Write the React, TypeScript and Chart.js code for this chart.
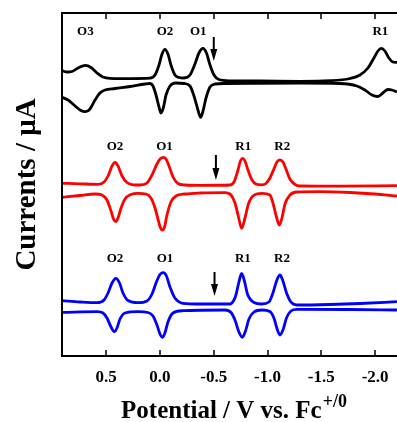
import { useEffect, useRef } from "react";
import { Chart, registerables } from "chart.js";

Chart.register(...registerables);

const FONT = "'Liberation Serif', 'Times New Roman', serif";

// Axis settings (potential in V vs Fc+/0, reversed axis)
const xTicks = [0.5, 0.0, -0.5, -1.0, -1.5, -2.0];
const xMin = -2.2035;
const xMax = 0.911;
const yMin = 0;
const yMax = 34.3;

// Traces: [potential (V), current (a.u., stacked offsets)]
const blackForward: [number, number][] = [
  [0.911, 28.53], [0.864, 28.4], [0.818, 28.45], [0.762, 28.8], [0.692, 29.07], [0.641, 28.85],
  [0.585, 28.3], [0.53, 27.9], [0.465, 27.77], [0.279, 27.74], [0.093, 27.78], [0.046, 28.1],
  [0.009, 29.1], [-0.019, 30.2], [-0.046, 30.67], [-0.074, 30.2], [-0.102, 29.1], [-0.139, 28.1],
  [-0.177, 27.85], [-0.223, 27.8], [-0.279, 28.1], [-0.325, 29.2], [-0.362, 30.3], [-0.4, 30.77],
  [-0.432, 30.3], [-0.465, 29.1], [-0.502, 28.1], [-0.548, 27.65], [-0.651, 27.52], [-0.929, 27.5],
  [-1.301, 27.47], [-1.58, 27.53], [-1.766, 27.75], [-1.859, 28.1], [-1.933, 28.8], [-1.989, 29.8],
  [-2.026, 30.5], [-2.059, 30.77], [-2.091, 30.5], [-2.128, 29.8], [-2.165, 29.4], [-2.203, 29.35],
];
const blackReverse: [number, number][] = [
  [0.911, 25.87], [0.855, 25.6], [0.799, 25.1], [0.743, 24.6], [0.691, 24.43], [0.651, 24.7],
  [0.604, 25.6], [0.558, 26.3], [0.511, 26.6], [0.418, 26.75], [0.279, 26.95], [0.139, 27.2],
  [0.093, 27.25], [0.065, 27.0], [0.037, 26.1], [0.009, 24.9], [-0.009, 24.3], [-0.033, 24.9],
  [-0.056, 26.1], [-0.093, 27.0], [-0.149, 27.3], [-0.223, 27.25], [-0.279, 27.0], [-0.316, 26.0],
  [-0.353, 24.6], [-0.378, 23.87], [-0.4, 24.5], [-0.428, 25.8], [-0.465, 26.9], [-0.511, 27.2],
  [-0.604, 27.25], [-0.929, 27.27], [-1.301, 27.28], [-1.673, 27.25], [-1.831, 27.0], [-1.905, 26.6],
  [-1.97, 26.1], [-2.026, 25.95], [-2.072, 26.3], [-2.119, 26.65], [-2.156, 26.6], [-2.203, 26.4],
];
const redForward: [number, number][] = [
  [0.911, 17.27], [0.743, 17.22], [0.576, 17.17], [0.52, 17.4], [0.483, 18.0], [0.446, 19.0],
  [0.418, 19.37], [0.39, 19.0], [0.353, 18.0], [0.307, 17.35], [0.251, 17.12], [0.186, 17.1],
  [0.121, 17.3], [0.074, 18.1], [0.028, 19.2], [-0.005, 19.75], [-0.031, 19.87], [-0.056, 19.7],
  [-0.084, 19.0], [-0.121, 17.9], [-0.167, 17.25], [-0.232, 17.1], [-0.372, 17.07], [-0.651, 17.1],
  [-0.688, 17.4], [-0.725, 18.6], [-0.748, 19.5], [-0.769, 19.77], [-0.79, 19.5], [-0.818, 18.6],
  [-0.855, 17.6], [-0.892, 17.2], [-0.945, 17.12], [-0.985, 17.25], [-1.022, 17.8], [-1.059, 18.7],
  [-1.087, 19.4], [-1.115, 19.6], [-1.143, 19.4], [-1.171, 18.7], [-1.208, 17.7], [-1.255, 17.15],
  [-1.301, 17.0], [-1.673, 16.98], [-2.203, 17.03],
];
const redReverse: [number, number][] = [
  [0.911, 15.87], [0.743, 16.05], [0.604, 16.2], [0.539, 16.1], [0.493, 15.6], [0.455, 14.5],
  [0.432, 13.7], [0.412, 13.43], [0.39, 13.8], [0.362, 14.8], [0.325, 15.7], [0.27, 16.15],
  [0.204, 16.27], [0.13, 16.2], [0.084, 15.8], [0.046, 14.8], [0.014, 13.5], [-0.005, 12.8],
  [-0.021, 12.6], [-0.042, 12.9], [-0.065, 14.1], [-0.102, 15.4], [-0.149, 16.0], [-0.232, 16.2],
  [-0.372, 16.3], [-0.604, 16.33], [-0.66, 16.1], [-0.697, 15.3], [-0.73, 13.9], [-0.759, 12.77],
  [-0.79, 13.8], [-0.822, 15.2], [-0.864, 16.0], [-0.948, 16.27], [-1.022, 16.1], [-1.05, 15.3],
  [-1.083, 13.9], [-1.109, 13.1], [-1.134, 13.8], [-1.162, 15.2], [-1.208, 16.1], [-1.273, 16.4],
  [-1.487, 16.43], [-1.766, 16.35], [-1.998, 16.2], [-2.203, 16.0],
];
const blueForward: [number, number][] = [
  [0.911, 5.53], [0.743, 5.4], [0.585, 5.33], [0.52, 5.6], [0.483, 6.3], [0.446, 7.3],
  [0.409, 7.77], [0.376, 7.3], [0.344, 6.3], [0.297, 5.55], [0.204, 5.33], [0.121, 5.5],
  [0.074, 6.2], [0.037, 7.3], [0.0, 8.15], [-0.031, 8.33], [-0.06, 8.0], [-0.093, 6.9],
  [-0.139, 5.8], [-0.214, 5.27], [-0.372, 5.2], [-0.651, 5.2], [-0.688, 5.6], [-0.706, 6.1],
  [-0.734, 7.4], [-0.759, 8.25], [-0.785, 7.5], [-0.813, 6.2], [-0.874, 5.35], [-0.945, 5.2],
  [-1.013, 5.4], [-1.05, 6.3], [-1.087, 7.6], [-1.115, 8.1], [-1.143, 7.5], [-1.18, 6.2],
  [-1.217, 5.4], [-1.273, 5.1], [-1.58, 5.15], [-1.859, 5.25], [-2.203, 5.43],
];
const blueReverse: [number, number][] = [
  [0.911, 4.37], [0.585, 4.43], [0.53, 4.3], [0.493, 3.8], [0.455, 2.9], [0.425, 2.43],
  [0.4, 2.8], [0.372, 3.7], [0.325, 4.3], [0.204, 4.43], [0.112, 4.35], [0.065, 4.0],
  [0.028, 3.1], [0.0, 2.2], [-0.021, 1.87], [-0.046, 2.3], [-0.074, 3.4], [-0.121, 4.3],
  [-0.214, 4.53], [-0.604, 4.6], [-0.66, 4.35], [-0.697, 3.6], [-0.734, 2.4], [-0.765, 1.87],
  [-0.795, 2.5], [-0.827, 3.7], [-0.874, 4.4], [-0.948, 4.6], [-1.022, 4.45], [-1.059, 3.8],
  [-1.092, 2.6], [-1.115, 2.1], [-1.143, 2.6], [-1.176, 3.8], [-1.217, 4.5], [-1.273, 4.67],
  [-1.766, 4.65], [-2.203, 4.6],
];

// Peak labels: [text, potential, current]
const blackLabels: [string, number, number][] = [
  ["O3", 0.694, 32.4], ["O2", -0.046, 32.4], ["O1", -0.356, 32.4], ["R1", -2.049, 32.4],
];
const redLabels: [string, number, number][] = [
  ["O2", 0.418, 20.9], ["O1", -0.042, 20.9], ["R1", -0.774, 20.9], ["R2", -1.137, 20.9],
];
const blueLabels: [string, number, number][] = [
  ["O2", 0.418, 9.77], ["O1", -0.046, 9.77], ["R1", -0.771, 9.77], ["R2", -1.134, 9.77],
];

// Start-potential arrows
const arrowPotentials = [-0.5, -0.52, -0.507];
const arrowTops = [31.9, 20.1, 8.4];
const arrowTips = [29.5, 17.6, 6.0];

const xTitle = "Potential / V vs. Fc";
const xTitleSup = "+/0";
const yTitle = "Currents / \u03BCA";

const toXY = (arr: [number, number][]) => arr.map(([x, y]) => ({ x, y }));

const overlayPlugin = {
  id: "overlay",
  afterDraw(chart: any) {
    const { ctx, chartArea: a, scales } = chart;
    const xs = scales.x;
    const ys = scales.y;
    ctx.save();
    // frame
    ctx.strokeStyle = "#000";
    ctx.lineWidth = 2;
    ctx.beginPath();
    ctx.moveTo(a.left - 1, a.top);
    ctx.lineTo(a.right + 2, a.top);
    ctx.moveTo(a.left, a.top - 1);
    ctx.lineTo(a.left, a.bottom + 1);
    ctx.moveTo(a.left - 1, a.bottom);
    ctx.lineTo(a.right + 2, a.bottom);
    ctx.stroke();
    // inward ticks
    ctx.lineWidth = 1.5;
    ctx.beginPath();
    xs.ticks.forEach((t: any) => {
      const px = Math.round(xs.getPixelForValue(t.value));
      ctx.moveTo(px, a.bottom);
      ctx.lineTo(px, a.bottom - 6);
      ctx.moveTo(px, a.top);
      ctx.lineTo(px, a.top + 6);
    });
    ctx.stroke();
    // tick labels
    ctx.fillStyle = "#000";
    ctx.font = `bold 17px ${FONT}`;
    ctx.textAlign = "center";
    ctx.textBaseline = "middle";
    xs.ticks.forEach((t: any) => {
      const px = xs.getPixelForValue(t.value);
      ctx.fillText(Number(t.value).toFixed(1), px, a.bottom + 22);
    });
    // x title with superscript
    ctx.textAlign = "left";
    ctx.textBaseline = "alphabetic";
    ctx.font = `bold 25px ${FONT}`;
    const w1 = ctx.measureText(xTitle).width;
    ctx.font = `bold 18px ${FONT}`;
    const w2 = ctx.measureText(xTitleSup).width;
    const startX = (a.left + a.right) / 2 - (w1 + w2) / 2 + 4;
    const base = a.bottom + 62;
    ctx.font = `bold 25px ${FONT}`;
    ctx.fillText(xTitle, startX, base);
    ctx.font = `bold 18px ${FONT}`;
    ctx.fillText(xTitleSup, startX + w1 + 1, base - 11);
    // peak labels
    ctx.font = `bold 13px ${FONT}`;
    ctx.textAlign = "center";
    ctx.textBaseline = "middle";
    [blackLabels, redLabels, blueLabels].forEach((set) => {
      set.forEach(([txt, v, i]) => {
        ctx.fillText(txt, xs.getPixelForValue(v), ys.getPixelForValue(i));
      });
    });
    // arrows
    arrowPotentials.forEach((v, k) => {
      const px = xs.getPixelForValue(v);
      const top = ys.getPixelForValue(arrowTops[k]);
      const tip = ys.getPixelForValue(arrowTips[k]);
      const headLen = 12;
      ctx.lineWidth = 2;
      ctx.beginPath();
      ctx.moveTo(px, top);
      ctx.lineTo(px, tip - headLen + 1);
      ctx.stroke();
      ctx.beginPath();
      ctx.moveTo(px - 3.5, tip - headLen);
      ctx.lineTo(px + 3.5, tip - headLen);
      ctx.lineTo(px, tip);
      ctx.closePath();
      ctx.fill();
    });
    ctx.restore();
  },
};

export default function App() {
  const ref = useRef<HTMLCanvasElement>(null);
  useEffect(() => {
    if (!ref.current) return;
    const mk = (arr: [number, number][], color: string) => ({
      data: toXY(arr),
      showLine: true,
      borderColor: color,
      backgroundColor: color,
      borderWidth: 2.8,
      pointRadius: 0,
      cubicInterpolationMode: "monotone",
      fill: false,
    });
    const chart = new Chart(ref.current, {
      type: "scatter",
      data: {
        datasets: [
          mk(blackForward, "#000000"),
          mk(blackReverse, "#000000"),
          mk(redForward, "#ff0000"),
          mk(redReverse, "#ff0000"),
          mk(blueForward, "#0000ff"),
          mk(blueReverse, "#0000ff"),
        ] as any,
      },
      options: {
        animation: false,
        responsive: false,
        devicePixelRatio: 1,
        layout: { padding: { top: 13, left: 0, right: 0, bottom: 0 } },
        plugins: { legend: { display: false }, tooltip: { enabled: false } },
        scales: {
          x: {
            type: "linear",
            position: "bottom",
            reverse: true,
            min: xMin,
            max: xMax,
            grid: { display: false },
            border: { display: false },
            ticks: { display: false },
            afterBuildTicks: (s: any) => {
              s.ticks = xTicks.map((v) => ({ value: v }));
            },
            afterFit: (s: any) => {
              s.height = 66;
            },
          },
          y: {
            type: "linear",
            min: yMin,
            max: yMax,
            grid: { display: false },
            border: { display: false },
            ticks: { display: false },
            title: {
              display: true,
              text: yTitle,
              color: "#000",
              font: { family: FONT, size: 29, weight: "bold" },
              padding: { top: 10, bottom: 0 },
            },
            afterFit: (s: any) => {
              s.width = 62;
            },
          },
        },
      } as any,
      plugins: [overlayPlugin],
    });
    return () => chart.destroy();
  }, []);
  return (
    <div style={{ position: "absolute", left: 0, top: 0, width: 397, height: 422, background: "#fff", overflow: "hidden" }}>
      <canvas ref={ref} width={397} height={422} style={{ display: "block", width: 397, height: 422 }} />
    </div>
  );
}
